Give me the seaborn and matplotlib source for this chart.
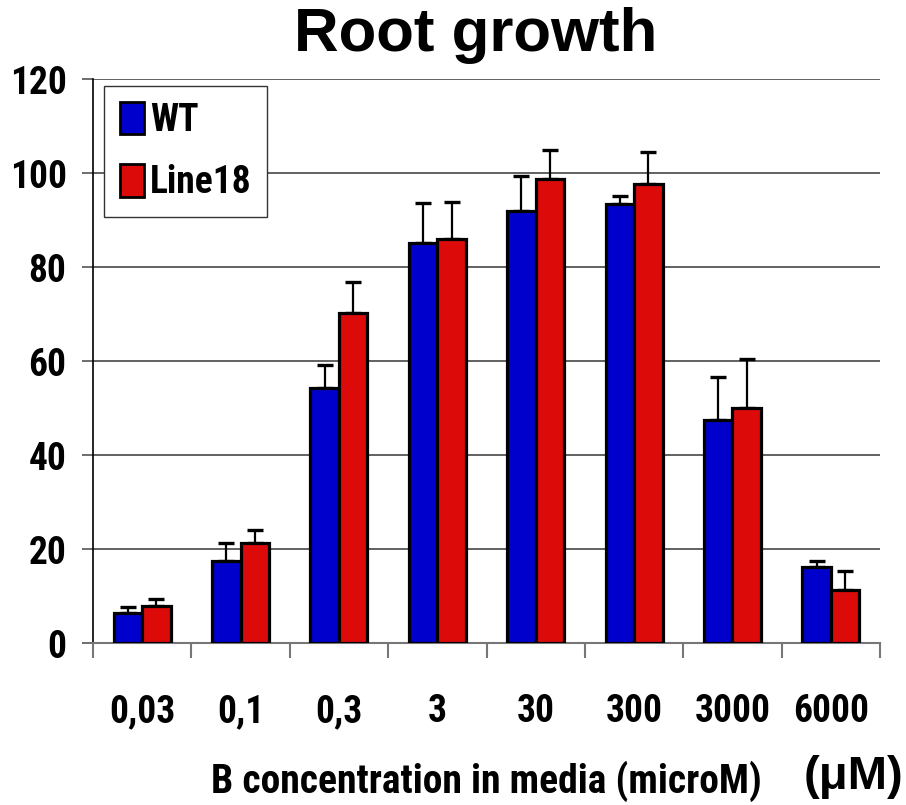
import numpy as np
import pandas as pd
import matplotlib
matplotlib.use("Agg")
import matplotlib.pyplot as plt
import seaborn as sns

# Root growth per boron concentration (mean and upper error)
concentrations = ["0,03", "0,1", "0,3", "3", "30", "300", "3000", "6000"]
wt_mean = [6.4, 17.4, 54.3, 85.1, 91.9, 93.4, 47.4, 16.2]
wt_err = [1.3, 3.9, 4.8, 8.5, 7.5, 1.7, 9.2, 1.2]
line18_mean = [7.9, 21.3, 70.2, 86.0, 98.7, 97.7, 50.0, 11.3]
line18_err = [1.5, 2.7, 6.6, 7.8, 6.2, 6.8, 10.4, 4.0]
lines = ["WT", "Line18"]
colors = ["#0000CC", "#DD0A0A"]
y_ticks = [0, 20, 40, 60, 80, 100, 120]

sns.set_theme(style="white")
narrow = ["Roboto Condensed", "Liberation Sans", "DejaVu Sans"]
wide = ["Liberation Sans", "DejaVu Sans"]
plt.rcParams["font.family"] = narrow
plt.rcParams["font.weight"] = "bold"
for key in ["text.color", "axes.labelcolor", "xtick.color", "ytick.color"]:
    plt.rcParams[key] = "black"

df = pd.DataFrame({
    "conc": concentrations * 2,
    "line": ["WT"] * len(concentrations) + ["Line18"] * len(concentrations),
    "growth": wt_mean + line18_mean,
})

fig = plt.figure(figsize=(9.06, 8.05), dpi=100)
ax = fig.add_axes([93 / 906, 1 - 643 / 805, (880 - 93) / 906, (643 - 79) / 805])

sns.barplot(data=df, x="conc", y="growth", hue="line", order=concentrations,
            hue_order=lines, palette=colors, width=0.58, saturation=1,
            edgecolor="black", linewidth=2.3, errorbar=None, ax=ax, zorder=3)

# upper-only error bars on top of each bar
for cont, err in zip(ax.containers, [wt_err, line18_err]):
    xs = [p.get_x() + p.get_width() / 2 for p in cont.patches]
    hs = [p.get_height() for p in cont.patches]
    ax.errorbar(xs, hs, yerr=[np.zeros(len(err)), err], fmt="none",
                ecolor="black", elinewidth=1.6, capsize=6, capthick=2.4, zorder=2)

ax.set_xlim(-0.5, len(concentrations) - 0.5)
ax.set_ylim(0, 120)
ax.set_yticks(y_ticks)
ax.yaxis.grid(True, color="#555555", linewidth=1.3)
ax.set_axisbelow(True)

for s in ["top", "right"]:
    ax.spines[s].set_visible(False)
ax.spines["left"].set_color("black")
ax.spines["left"].set_linewidth(1.2)
ax.spines["bottom"].set_color("#777777")
ax.spines["bottom"].set_linewidth(1.5)

# category separators below the axis
ax.set_xticks(np.arange(-0.5, len(concentrations)), minor=True)
ax.tick_params(axis="x", which="minor", length=11, width=1.5, color="#777777",
               direction="out", bottom=True)
ax.tick_params(axis="x", which="major", length=0, pad=36, labelsize=27)
ax.tick_params(axis="y", which="major", length=8, width=1.2, color="#555555",
               direction="out", left=True, pad=11, labelsize=27)
for lab in ax.get_xticklabels() + ax.get_yticklabels():
    lab.set_fontweight("bold")

ax.set_xlabel("B concentration in media (microM)", fontsize=28.5, fontweight="bold",
              labelpad=22)
ax.set_ylabel("")
fig.text(903 / 906, 1 - 777 / 805, "(μM)", ha="right", va="center",
         fontsize=34, fontweight="bold", family=wide)

fig.text(476 / 906, 1 - 35 / 805, "Root growth", ha="center", va="center",
         fontsize=44.5, fontweight="bold", family=wide)

leg = ax.legend(loc="upper left", bbox_to_anchor=(11 / 787, 1 - 7 / 564),
                borderaxespad=0, frameon=True, fancybox=False, framealpha=1,
                edgecolor="#333333", prop={"size": 27, "weight": "bold"},
                handlelength=0.65, handleheight=0.95, handletextpad=0.15,
                labelspacing=0.68, borderpad=0.42)
leg.get_frame().set_linewidth(1.0)
for h in leg.legend_handles:
    h.set_edgecolor("black")
    h.set_linewidth(2)

fig.savefig("out.png", dpi=100)
